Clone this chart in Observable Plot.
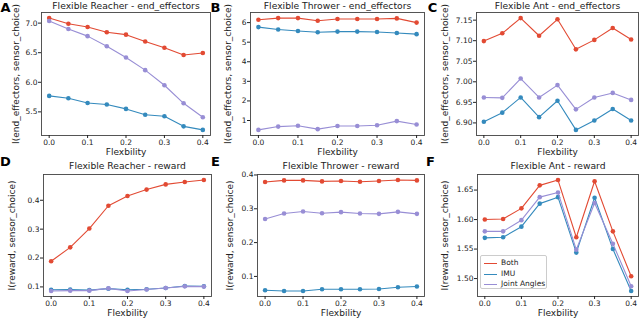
<!DOCTYPE html>
<html><head><meta charset="utf-8">
<script src="https://cdn.jsdelivr.net/npm/d3@7"></script>
<script src="https://cdn.jsdelivr.net/npm/@observablehq/plot@0.6"></script>
<style>
body{margin:0;background:#fff;}
#wrap{position:relative;width:640px;height:319px;font-family:"DejaVu Sans",sans-serif;overflow:hidden;background:#fff}
#wrap svg{position:absolute;overflow:visible}
.legend{position:absolute;left:480px;top:255px;width:67px;height:34px;border:1px solid #ccc;border-radius:2px;background:rgba(255,255,255,0.8);font-size:7.5px;color:#222;box-sizing:border-box;padding-top:2px}
.legend .row{height:10.7px;line-height:10.7px;display:flex;align-items:center;white-space:nowrap}
.legend .sw{display:inline-block;width:13px;height:0;border-top:1.3px solid;margin:0 4px 0 3px}
</style></head><body><div id="wrap"></div>
<script>
// ---- data ----
const flexibility = [0, 0.05, 0.1, 0.15, 0.2, 0.25, 0.3, 0.35, 0.4];
const seriesNames = ["Both", "IMU", "Joint Angles"];
const seriesColors = ["#E24A33", "#348ABD", "#988ED5"];
const xTicks = [0, 0.1, 0.2, 0.3, 0.4];
const xLabel = "Flexbility";

const reacherEndBoth   = [7.085, 6.99, 6.935, 6.845, 6.805, 6.69, 6.583, 6.46, 6.495];
const reacherEndIMU    = [5.77, 5.73, 5.65, 5.625, 5.55, 5.45, 5.425, 5.255, 5.195];
const reacherEndJoint  = [7.035, 6.90, 6.78, 6.61, 6.42, 6.205, 5.95, 5.645, 5.41];

const throwerEndBoth   = [6.145, 6.23, 6.23, 6.095, 6.18, 6.18, 6.18, 6.215, 6.00];
const throwerEndIMU    = [5.77, 5.65, 5.57, 5.505, 5.54, 5.54, 5.52, 5.47, 5.41];
const throwerEndJoint  = [0.52, 0.69, 0.73, 0.56, 0.72, 0.72, 0.76, 0.97, 0.80];

const antEndBoth       = [7.099, 7.118, 7.155, 7.112, 7.152, 7.079, 7.102, 7.131, 7.103];
const antEndIMU        = [6.903, 6.925, 6.962, 6.914, 6.954, 6.883, 6.906, 6.934, 6.906];
const antEndJoint      = [6.962, 6.961, 7.008, 6.962, 6.992, 6.933, 6.962, 6.973, 6.956];

const reacherRewBoth   = [0.189, 0.237, 0.302, 0.381, 0.415, 0.437, 0.455, 0.463, 0.470];
const reacherRewIMU    = [0.090, 0.091, 0.089, 0.094, 0.090, 0.092, 0.096, 0.103, 0.102];
const reacherRewJoint  = [0.086, 0.087, 0.087, 0.095, 0.086, 0.091, 0.096, 0.102, 0.101];

const throwerRewBoth   = [0.379, 0.384, 0.384, 0.381, 0.382, 0.380, 0.382, 0.385, 0.384];
const throwerRewIMU    = [0.059, 0.057, 0.057, 0.062, 0.062, 0.062, 0.063, 0.068, 0.070];
const throwerRewJoint  = [0.270, 0.286, 0.292, 0.287, 0.290, 0.286, 0.285, 0.291, 0.285];

const antRewBoth       = [1.600, 1.601, 1.619, 1.658, 1.667, 1.570, 1.665, 1.580, 1.504];
const antRewIMU        = [1.569, 1.570, 1.588, 1.627, 1.638, 1.544, 1.637, 1.550, 1.479];
const antRewJoint      = [1.580, 1.580, 1.599, 1.638, 1.646, 1.549, 1.628, 1.559, 1.487];

const yTicksReacherEnd = [5.5, 6.0, 6.5, 7.0];
const yTicksThrowerEnd = [1, 2, 3, 4, 5, 6];
const yTicksAntEnd     = [6.90, 6.95, 7.00, 7.05, 7.10, 7.15];
const yTicksReacherRew = [0.1, 0.2, 0.3, 0.4];
const yTicksThrowerRew = [0.1, 0.2, 0.3, 0.4];
const yTicksAntRew     = [1.50, 1.55, 1.60, 1.65];

const panelLetters = ["A", "B", "C", "D", "E", "F"];
const panelTitles = [
  "Flexible Reacher - end_effectors", "Flexible Thrower - end_effectors", "Flexible Ant - end_effectors",
  "Flexible Reacher - reward", "Flexible Thrower - reward", "Flexible Ant - reward"
];
const yLabels = [
  "I(end_effectors, sensor_choice)", "I(end_effectors, sensor_choice)", "I(end_effectors, sensor_choice)",
  "I(reward, sensor_choice)", "I(reward, sensor_choice)", "I(reward, sensor_choice)"
];

const panels = [
  {series: [reacherEndBoth, reacherEndIMU, reacherEndJoint], yTicks: yTicksReacherEnd, fmt: ".1f"},
  {series: [throwerEndBoth, throwerEndIMU, throwerEndJoint], yTicks: yTicksThrowerEnd, fmt: "d"},
  {series: [antEndBoth, antEndIMU, antEndJoint], yTicks: yTicksAntEnd, fmt: ".2f"},
  {series: [reacherRewBoth, reacherRewIMU, reacherRewJoint], yTicks: yTicksReacherRew, fmt: ".1f"},
  {series: [throwerRewBoth, throwerRewIMU, throwerRewJoint], yTicks: yTicksThrowerRew, fmt: ".1f"},
  {series: [antRewBoth, antRewIMU, antRewJoint], yTicks: yTicksAntRew, fmt: ".2f"}
];

// ---- layout (pixels) ----
const layout = [
  {left: 0,   top: 0,   w: 213, h: 158, ml: 41, mr: 3, mt: 12, mb: 23, yl: -25, lx: -36, ly: -5, td: -6},
  {left: 213, top: 0,   w: 213, h: 158, ml: 37, mr: 2, mt: 12, mb: 23, yl: -22, lx: -35, ly: -5, td: -6},
  {left: 426, top: 0,   w: 214, h: 158, ml: 50, mr: 2, mt: 12, mb: 23, yl: -31, lx: -44, ly: -5, td: -6},
  {left: 0,   top: 158, w: 213, h: 161, ml: 43, mr: 2, mt: 16, mb: 23, yl: -31, lx: -38, ly: -13, td: -8},
  {left: 213, top: 158, w: 213, h: 161, ml: 44, mr: 2, mt: 16, mb: 23, yl: -27, lx: -42, ly: -13, td: -8},
  {left: 426, top: 158, w: 214, h: 161, ml: 51, mr: 2, mt: 16, mb: 23, yl: -32, lx: -47, ly: -13, td: -8}
];

const wrap = document.getElementById("wrap");

panels.forEach((p, i) => {
  const L = layout[i];
  const rows = [];
  p.series.forEach((vals, s) => vals.forEach((v, k) => rows.push({x: flexibility[k], y: v, s})));
  const all = p.series.flat();
  const [lo, hi] = d3.extent(all);
  const pad = (hi - lo) * 0.05;
  const seriesMarks = [];
  p.series.forEach((vals, s) => {
    const d = rows.filter(r => r.s === s);
    seriesMarks.push(Plot.line(d, {x: "x", y: "y", stroke: seriesColors[s], strokeWidth: 1.1}));
    seriesMarks.push(Plot.dot(d, {x: "x", y: "y", fill: seriesColors[s], r: 2.3, stroke: "none"}));
  });
  const chart = Plot.plot({
    width: L.w, height: L.h,
    marginLeft: L.ml, marginRight: L.mr, marginTop: L.mt, marginBottom: L.mb,
    x: {domain: [-0.02, 0.42]},
    y: {domain: [lo - pad, hi + pad]},
    style: {fontFamily: "DejaVu Sans, sans-serif", fontSize: "7.5px", color: "#222", background: "transparent", overflow: "visible"},
    marks: [
      ...seriesMarks,
      Plot.frame({stroke: "#444", strokeWidth: 0.9}),
      Plot.axisX({ticks: xTicks, tickFormat: d3.format(".1f"), tickSize: 3, tickPadding: 1, fontSize: 7.5, label: null}),
      Plot.axisY({ticks: p.yTicks, tickFormat: d3.format(p.fmt), tickSize: 3, tickPadding: 1, fontSize: 7.5, label: null}),
      Plot.text([panelTitles[i]], {text: d => d, frameAnchor: "top", dy: L.td, fontSize: 9.2, lineAnchor: "middle", fill: "#222"}),
      Plot.text([xLabel], {text: d => d, frameAnchor: "bottom", dy: 17, fontSize: 9, lineAnchor: "middle", fill: "#222"}),
      Plot.text([yLabels[i]], {text: d => d, frameAnchor: "left", dx: L.yl, rotate: -90, fontSize: 9, textAnchor: "middle", lineAnchor: "middle", fill: "#222"}),
      Plot.text([panelLetters[i]], {text: d => d, frameAnchor: "top-left", dx: L.lx, dy: L.ly, fontSize: 13, fontWeight: "bold", textAnchor: "middle", lineAnchor: "middle", fill: "#000"})
    ]
  });
  chart.style.left = L.left + "px";
  chart.style.top = L.top + "px";
  wrap.appendChild(chart);
});

// legend (panel F)
const legend = document.createElement("div");
legend.className = "legend";
seriesNames.forEach((name, s) => {
  const row = document.createElement("div");
  row.className = "row";
  const sw = document.createElement("span");
  sw.className = "sw";
  sw.style.borderTopColor = seriesColors[s];
  const t = document.createElement("span");
  t.textContent = name;
  row.appendChild(sw); row.appendChild(t);
  legend.appendChild(row);
});
wrap.appendChild(legend);
</script>
</body></html>
